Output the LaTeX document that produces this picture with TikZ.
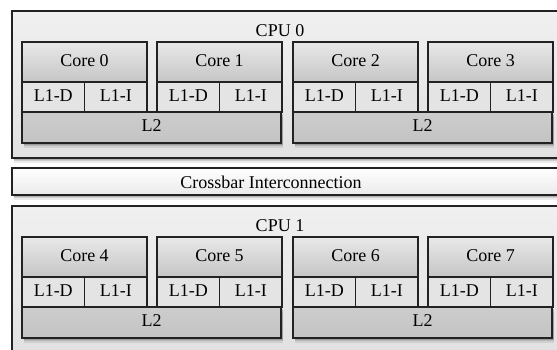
\documentclass[tikz,border=0pt]{standalone}
\usepackage{fontspec}
\setmainfont{Liberation Serif}
\usetikzlibrary{shadows}

\definecolor{edge}{HTML}{222222}
\definecolor{cpuTop}{HTML}{F0F0F0}
\definecolor{cpuBot}{HTML}{E1E1E1}
\definecolor{coreTop}{HTML}{E8E8E8}
\definecolor{coreBot}{HTML}{C6C6C6}
\definecolor{lonefill}{HTML}{E4E4E4}
\definecolor{ltwoTop}{HTML}{CDCDCD}
\definecolor{ltwoBot}{HTML}{C3C3C3}
\definecolor{xbarTop}{HTML}{FFFFFF}
\definecolor{xbarBot}{HTML}{EAEAEA}

\tikzset{
  frame/.style={draw=edge, line width=1.1pt, inner sep=0pt, outer sep=0pt,
    anchor=north west, text height=0.85em, text depth=0pt},
  softshadow/.style={
    drop shadow={shadow xshift=1.5pt, shadow yshift=-1.5pt, opacity=.14, fill=black},
    drop shadow={shadow xshift=1.5pt, shadow yshift=-3pt, opacity=.12, fill=black},
    drop shadow={shadow xshift=1.5pt, shadow yshift=-4.5pt, opacity=.08, fill=black}},
  cpubox/.style={frame, top color=cpuTop, bottom color=cpuBot, softshadow},
  xbarbox/.style={frame, top color=xbarTop, bottom color=xbarBot, softshadow},
  corebox/.style={frame, top color=coreTop, bottom color=coreBot},
  lonebox/.style={frame, fill=lonefill},
  ltwobox/.style={frame, top color=ltwoTop, bottom color=ltwoBot, softshadow},
  caption/.style={inner sep=0pt}
}

\begin{document}
\begin{tikzpicture}[x=1pt, y=-1pt, font=\fontsize{18}{21}\selectfont]
  \clip (0,0) rectangle (557,349);
  \fill[white] (0,0) rectangle (557,349);

  % two processors, each with four cores sharing two L2 caches
  \foreach \cpu/\yo in {0/0,1/195} {
    \node[cpubox, minimum width=580pt, minimum height=147pt] (cpu\cpu) at (12,11+\yo) {};
    \node[caption, anchor=base] (cpu\cpu label) at (280,36+\yo) {CPU \cpu};
    \foreach \pair/\xl in {0/22,1/293} {
      \node[ltwobox, minimum width=259pt, minimum height=31pt] (ltwo-\cpu-\pair) at (\xl,112+\yo) {L2};
    }
    \foreach \k/\xl in {0/22,1/157,2/293,3/428} {
      \pgfmathtruncatemacro\core{4*\cpu+\k}
      \node[corebox, minimum width=125pt, minimum height=40pt] (core\core) at (\xl,42+\yo) {Core \core};
      \node[lonebox, minimum width=62.5pt, minimum height=30pt] (lone-d\core) at (\xl,82+\yo) {L1-D};
      \node[lonebox, minimum width=62.5pt, minimum height=30pt] (lone-i\core) at (\xl+62.5,82+\yo) {L1-I};
    }
  }

  % interconnect between the processors
  \node[xbarbox, minimum width=580pt, minimum height=27pt] (xbar) at (12,168) {};
  \node[caption, anchor=base] (xbarlabel) at (271,188) {Crossbar Interconnection};
\end{tikzpicture}
\end{document}
